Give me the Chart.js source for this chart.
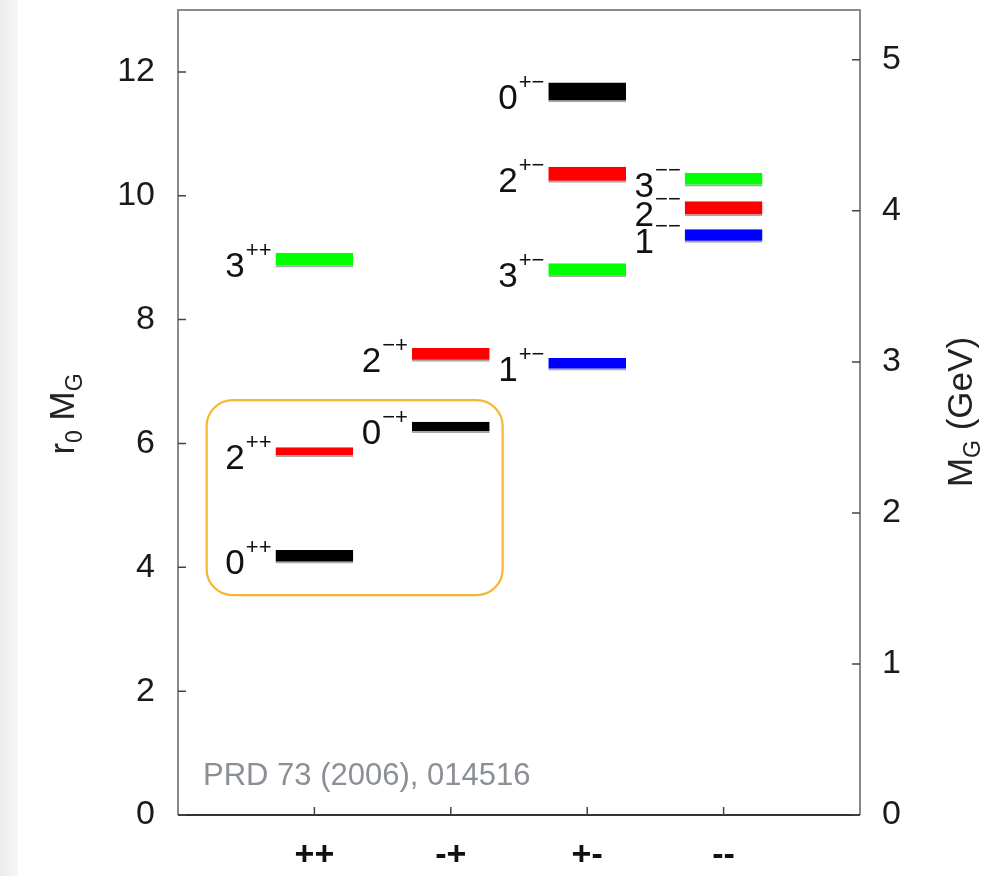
<!DOCTYPE html>
<html>
<head>
<meta charset="utf-8">
<script src="https://cdn.jsdelivr.net/npm/chart.js@4/dist/chart.umd.min.js"></script>
<style>
  html, body { margin: 0; padding: 0; background: #fff; overflow: hidden; }
</style>
</head>
<body>
<canvas id="glueballChart" width="985" height="876"></canvas>
<script>
// PC channels along the bottom axis
const categories = ['++', '-+', '+-', '--'];

// glueball levels, r0 * M_G
const levelJ    = [0, 2, 3, 0, 2, 0, 2, 3, 1, 3, 2, 1];
const levelPC   = ['++', '++', '++', '-+', '-+', '+-', '+-', '+-', '+-', '--', '--', '--'];
const levelMass = [4.17, 5.86, 8.96, 6.26, 7.43, 11.67, 10.34, 8.80, 7.28, 10.26, 9.79, 9.35];
const levelErr  = [0.11, 0.08, 0.12, 0.09, 0.11, 0.16, 0.13, 0.11, 0.10, 0.11, 0.12, 0.11];

// one colour per spin J
const spinValues = [0, 1, 2, 3];
const spinColors = ['#000000', '#0000ff', '#ff0000', '#00ff00'];

const yMax = 13;
const r0InvGeV = 0.41;   // 1/r0 in GeV, used for the right hand axis
const refText = 'PRD 73 (2006), 014516';
const highlightBox = { xMin: 0.21, xMax: 2.38, yMin: 3.55, yMax: 6.70 };

const FONT = '"Liberation Sans", Arial, Helvetica, sans-serif';

// build one bar dataset per spin, floating bars [m-err, m+err]
const levelIndexByDataset = [];
const datasets = spinValues.map((j, k) => {
  const idx = [];
  const data = [];
  levelJ.forEach((jj, i) => {
    if (jj !== j) return;
    idx.push(i);
    data.push({ x: categories.indexOf(levelPC[i]) + 1, y: [levelMass[i] - levelErr[i], levelMass[i] + levelErr[i]] });
  });
  levelIndexByDataset.push(idx);
  return {
    label: 'J=' + j,
    data: data,
    backgroundColor: spinColors[k],
    borderColor: 'rgba(60,60,60,0.45)',
    borderWidth: { top: 0, left: 0, right: 0, bottom: 2 },
    borderSkipped: false,
    grouped: false,
    categoryPercentage: 1,
    barPercentage: 0.57
  };
});

function minusify(s) { return s.replace(/-/g, '\u2212'); }

const decor = {
  id: 'decor',
  beforeDraw(chart) {
    const { ctx, width, height } = chart;
    ctx.save();
    ctx.fillStyle = '#ffffff';
    ctx.fillRect(0, 0, width, height);
    const g = ctx.createLinearGradient(0, 0, 20, 0);
    g.addColorStop(0, '#ececec');
    g.addColorStop(1, '#f7f7f7');
    ctx.fillStyle = g;
    ctx.fillRect(0, 0, 18, height);
    ctx.restore();
  },
  afterDatasetsDraw(chart) {
    const { ctx, chartArea: a } = chart;
    const xs = chart.scales.x, ys = chart.scales.y, y1 = chart.scales.y1;
    ctx.save();

    // frame
    ctx.lineWidth = 2;
    ctx.strokeStyle = '#8a8a8a';
    ctx.beginPath();
    ctx.moveTo(a.left, a.bottom); ctx.lineTo(a.left, a.top); ctx.lineTo(a.right, a.top); ctx.lineTo(a.right, a.bottom);
    ctx.stroke();
    ctx.strokeStyle = '#333';
    ctx.beginPath();
    ctx.moveTo(a.left, a.bottom); ctx.lineTo(a.right, a.bottom);
    ctx.stroke();

    // inward ticks
    ctx.lineWidth = 1.5;
    ctx.strokeStyle = '#444';
    ctx.beginPath();
    ys.ticks.forEach(t => { const p = ys.getPixelForValue(t.value); ctx.moveTo(a.left, p); ctx.lineTo(a.left + 8, p); });
    y1.ticks.forEach(t => { const p = y1.getPixelForValue(t.value); ctx.moveTo(a.right - 8, p); ctx.lineTo(a.right, p); });
    xs.ticks.forEach(t => {
      if (!categories[t.value - 1]) return;
      const p = xs.getPixelForValue(t.value); ctx.moveTo(p, a.bottom); ctx.lineTo(p, a.bottom - 8);
    });
    ctx.stroke();

    // highlight box
    const bx0 = xs.getPixelForValue(highlightBox.xMin), bx1 = xs.getPixelForValue(highlightBox.xMax);
    const by0 = ys.getPixelForValue(highlightBox.yMax), by1 = ys.getPixelForValue(highlightBox.yMin);
    ctx.strokeStyle = '#f5b731';
    ctx.lineWidth = 2.2;
    ctx.beginPath();
    ctx.roundRect(bx0, by0, bx1 - bx0, by1 - by0, 26);
    ctx.stroke();

    // level labels J^{PC}
    ctx.fillStyle = '#111';
    ctx.textBaseline = 'alphabetic';
    chart.data.datasets.forEach((ds, d) => {
      const meta = chart.getDatasetMeta(d);
      meta.data.forEach((el, k) => {
        const i = levelIndexByDataset[d][k];
        const right = el.x - el.width / 2 - 4;
        const yc = ys.getPixelForValue(levelMass[i]);
        const sup = minusify(levelPC[i]);
        ctx.font = '22px ' + FONT;
        const supW = ctx.measureText(sup).width;
        ctx.textAlign = 'left';
        ctx.fillText(sup, right - supW, yc - 3);
        ctx.font = '35px ' + FONT;
        ctx.textAlign = 'right';
        ctx.fillText(String(levelJ[i]), right - supW - 1, yc + 17);
      });
    });

    // reference note
    ctx.font = '31px ' + FONT;
    ctx.fillStyle = '#8b8f96';
    ctx.textAlign = 'left';
    ctx.fillText(refText, a.left + 25, a.bottom - 30);

    // axis titles with subscripts
    const drawTitle = (parts, cx, cy) => {
      ctx.save();
      ctx.translate(cx, cy);
      ctx.rotate(-Math.PI / 2);
      let w = 0;
      parts.forEach(p => { ctx.font = p.size + 'px ' + FONT; w += ctx.measureText(p.t).width; });
      let x = -w / 2;
      ctx.fillStyle = '#222';
      ctx.textAlign = 'left';
      parts.forEach(p => {
        ctx.font = p.size + 'px ' + FONT;
        ctx.fillText(p.t, x, p.dy);
        x += ctx.measureText(p.t).width;
      });
      ctx.restore();
    };
    drawTitle([{ t: 'r', size: 35, dy: 0 }, { t: '0', size: 23, dy: 8 }, { t: ' M', size: 35, dy: 0 }, { t: 'G', size: 23, dy: 8 }], 74, 414);
    drawTitle([{ t: 'M', size: 35, dy: 0 }, { t: 'G', size: 23, dy: 8 }, { t: ' (GeV)', size: 35, dy: 0 }], 972, 412);

    ctx.restore();
  }
};

const ctx = document.getElementById('glueballChart').getContext('2d');
new Chart(ctx, {
  type: 'bar',
  data: { datasets: datasets },
  options: {
    responsive: false,
    animation: false,
    devicePixelRatio: 1,
    layout: { padding: { top: 10, left: 0, right: 0, bottom: 0 } },
    plugins: { legend: { display: false }, tooltip: { enabled: false }, title: { display: false } },
    scales: {
      x: {
        type: 'linear',
        offset: false,
        min: 0,
        max: 5,
        grid: { display: false, drawTicks: false, offset: false },
        border: { display: false },
        ticks: {
          stepSize: 1,
          padding: 20,
          color: '#111',
          font: { family: FONT, size: 34, weight: 'bold' },
          callback: v => categories[v - 1] || ''
        },
        afterFit: s => { s.height = 61; s.paddingLeft = 0; s.paddingRight = 0; }
      },
      y: {
        position: 'left',
        min: 0,
        max: yMax,
        grid: { display: false, drawTicks: false },
        border: { display: false },
        ticks: { stepSize: 2, includeBounds: false, padding: 23, color: '#1a1a1a', font: { family: FONT, size: 34 } },
        afterFit: s => { s.width = 178; s.paddingTop = 0; s.paddingBottom = 0; }
      },
      y1: {
        position: 'right',
        min: 0,
        max: yMax * r0InvGeV,
        grid: { display: false, drawTicks: false },
        border: { display: false },
        ticks: { stepSize: 1, includeBounds: false, padding: 22, color: '#1a1a1a', font: { family: FONT, size: 34 } },
        afterFit: s => { s.width = 125; s.paddingTop = 0; s.paddingBottom = 0; }
      }
    }
  },
  plugins: [decor]
});
</script>
</body>
</html>
